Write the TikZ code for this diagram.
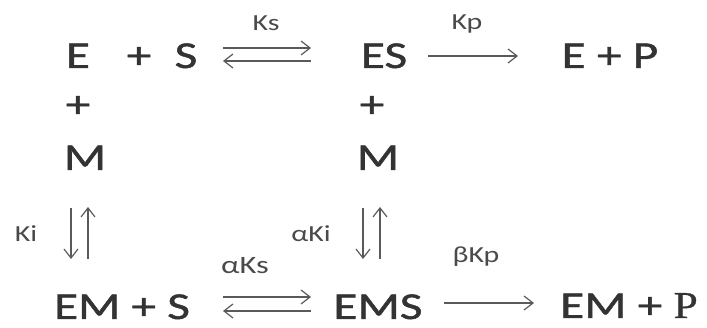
\documentclass[tikz,border=0pt]{standalone}
\usepackage{fontspec}
\setmainfont{Carlito}[FakeStretch=1.3]
\newfontfamily\mainbold{Carlito}[FakeStretch=1.3,FakeBold=1.2]
\newfontfamily\serifP{Liberation Serif}[FakeStretch=1.15,FakeBold=0.8]
\usetikzlibrary{arrows.meta}
\definecolor{txt}{HTML}{333333}
\definecolor{lbl}{HTML}{4A4A4A}
\definecolor{arr}{HTML}{5A5A5A}
\tikzset{
  species/.style={inner sep=0pt, anchor=base, text=txt, font=\mainbold\fontsize{38}{40}\selectfont},
  rate/.style={inner sep=0pt, text=lbl, font=\fontsize{23}{25}\selectfont},
  rxn/.style={draw=arr, line width=1.2pt, -{Straight Barb[length=9pt,width=14pt,line width=1.2pt]}},
}
\begin{document}
\begin{tikzpicture}[x=1pt,y=-1pt]
\useasboundingbox (0,0) rectangle (707,328);
% top row
\node[species] (E) at (78,68) {E};
\node[species] (p1) at (139,68) {+};
\node[species] (S) at (186,68) {S};
\node[species] (ES) at (384,68) {ES};
\node[species] (EP) at (610,68) {E + P};
% columns
\node[species] (pE) at (78,117) {+};
\node[species] (M1) at (85,170) {M};
\node[species] (pES) at (372,117) {+};
\node[species] (M2) at (378,170) {M};
% bottom row
\node[species] (EMS0) at (122,319) {EM + S};
\node[species] (EMS) at (378,319) {EMS};
\node[species] (EMP) at (629,318) {EM + {\serifP P}};
% rate labels
\node[rate] (Ks) at (266,23) {Ks};
\node[rate] (Kp) at (467,24) {Kp};
\node[rate] (Ki) at (26,234) {Ki};
\node[rate] (aKi) at (311,234) {αKi};
\node[rate, font=\fontsize{25}{27}\selectfont] (aKs) at (245,266) {αKs};
\node[rate] (bKp) at (476,257) {βKp};
% arrow end points
\coordinate (t1a) at (223,48); \coordinate (t1b) at (311,48);
\coordinate (t2a) at (311,61); \coordinate (t2b) at (223,61);
\coordinate (kpa) at (428,56); \coordinate (kpb) at (518,56);
\coordinate (b1a) at (223,297); \coordinate (b1b) at (311,297);
\coordinate (b2a) at (311,311); \coordinate (b2b) at (223,311);
\coordinate (bka) at (444,303); \coordinate (bkb) at (534,303);
\coordinate (v1a) at (71,208); \coordinate (v1b) at (71,259);
\coordinate (v2a) at (88,259); \coordinate (v2b) at (88,207);
\coordinate (v3a) at (363,208); \coordinate (v3b) at (363,259);
\coordinate (v4a) at (380,259); \coordinate (v4b) at (380,207);
\draw[rxn] (t1a) -- (t1b);
\draw[rxn] (t2a) -- (t2b);
\draw[rxn] (kpa) -- (kpb);
\draw[rxn] (b1a) -- (b1b);
\draw[rxn] (b2a) -- (b2b);
\draw[rxn] (bka) -- (bkb);
\draw[rxn] (v1a) -- (v1b);
\draw[rxn] (v2a) -- (v2b);
\draw[rxn] (v3a) -- (v3b);
\draw[rxn] (v4a) -- (v4b);
\end{tikzpicture}
\end{document}
